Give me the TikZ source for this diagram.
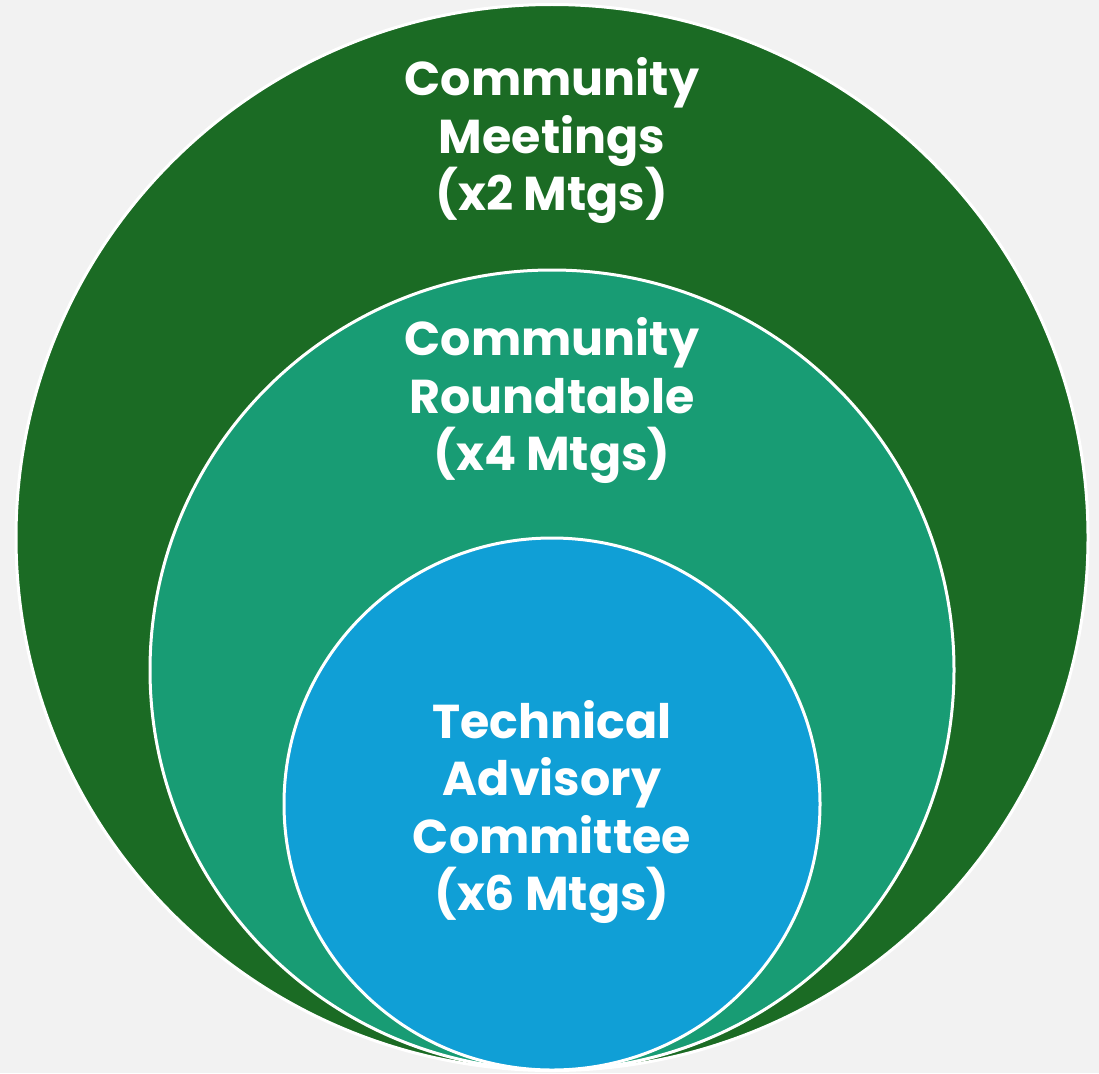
\documentclass[tikz,border=0pt]{standalone}
\usepackage{fontspec}
\setmainfont{Poppins}
\definecolor{bg}{HTML}{F2F2F2}
\definecolor{outerg}{HTML}{1B6B24}
\definecolor{midg}{HTML}{189C74}
\definecolor{innerb}{HTML}{109FD6}
\tikzset{
  ring/.style={draw=white, line width=3pt},
  lbl/.style={text=white, font=\bfseries\fontsize{47.5}{57.5}\selectfont, align=center, inner sep=0pt}
}
\begin{document}
\begin{tikzpicture}[x=1pt,y=-1pt]
\fill[bg] (0,0) rectangle (1099,1073);
\useasboundingbox (0,0) rectangle (1099,1073);
\path[ring, fill=outerg] (552,537.5) ellipse [x radius=536, y radius=533];
\path[ring, fill=midg] (552,670) ellipse [x radius=402, y radius=400];
\path[ring, fill=innerb] (552,804) ellipse [x radius=268, y radius=266];
\node[lbl] (outer) at (552,141) {Community\\Meetings\\(x2 Mtgs)};
\node[lbl] (mid) at (552,401) {Community\\Roundtable\\(x4 Mtgs)};
\node[lbl] (inner) at (552,812) {Technical\\Advisory\\Committee\\(x6 Mtgs)};
\end{tikzpicture}
\end{document}
